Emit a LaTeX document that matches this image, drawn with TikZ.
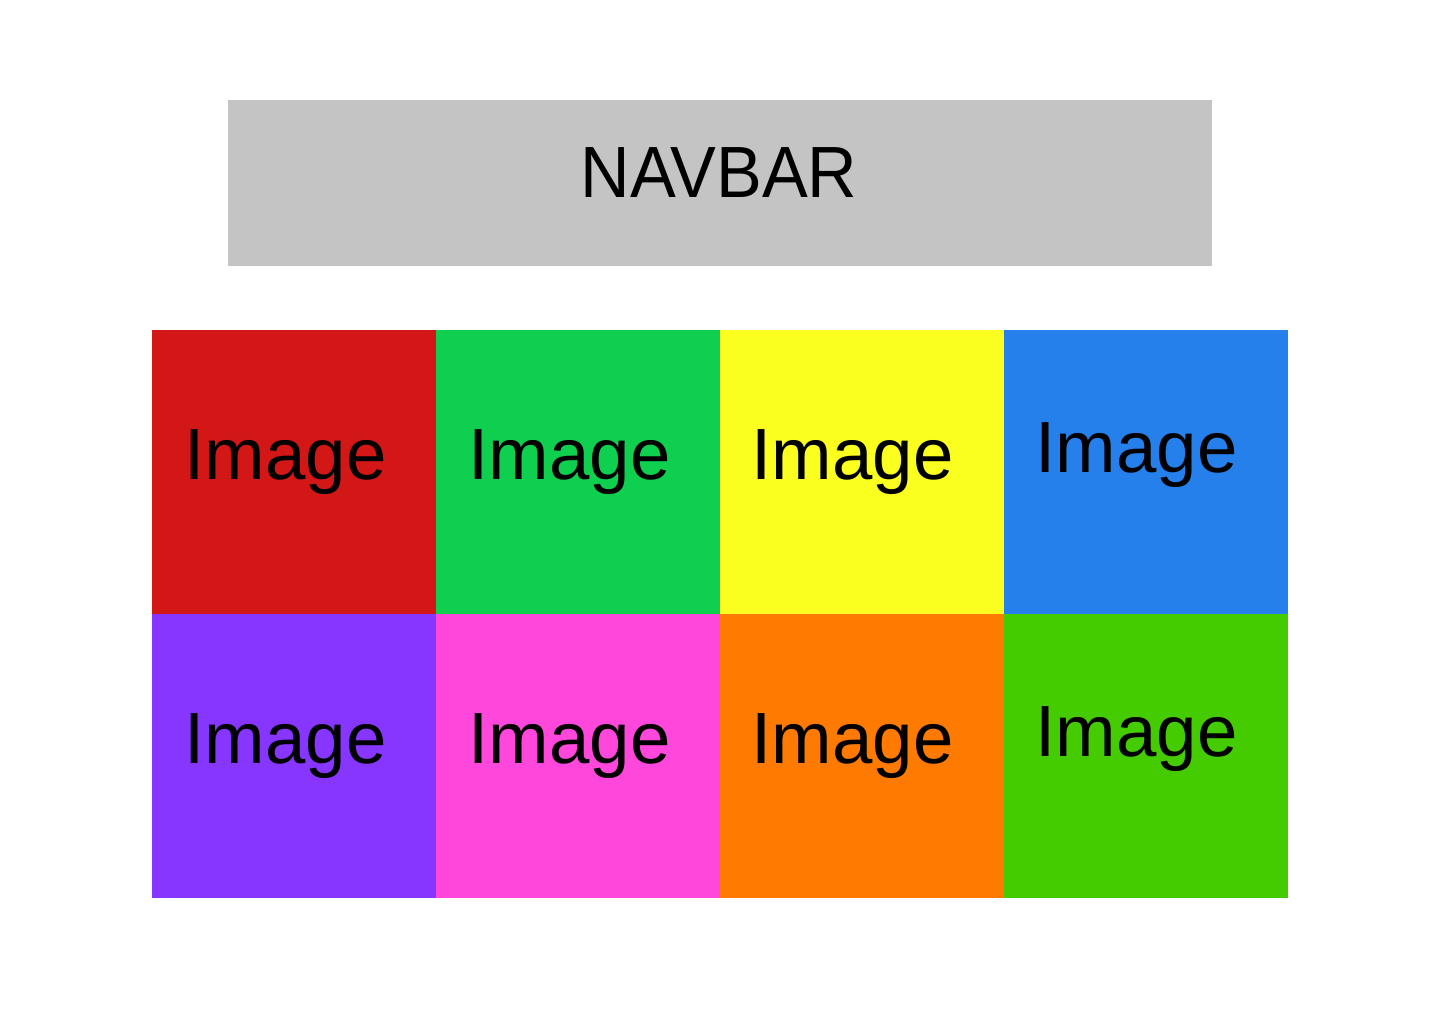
\documentclass[tikz,border=0pt]{standalone}
\usepackage{fontspec}
\setmainfont{Liberation Sans}
\definecolor{navgray}{HTML}{C4C4C4}
\definecolor{cred}{HTML}{D31616}
\definecolor{cgreen}{HTML}{0FCF4F}
\definecolor{cyellow}{HTML}{FAFF1F}
\definecolor{cblue}{HTML}{2580EC}
\definecolor{cpurple}{HTML}{8736FF}
\definecolor{cpink}{HTML}{FF48DB}
\definecolor{corange}{HTML}{FF7A00}
\definecolor{clime}{HTML}{45CC00}
\begin{document}
\begin{tikzpicture}[x=1pt,y=-1pt,
  cell/.style={draw=none,inner sep=0pt,minimum width=284pt,minimum height=284pt,anchor=north west},
  lbl/.style={inner sep=0pt,anchor=base,font=\fontsize{72.6}{80}\selectfont,text=black}]
\useasboundingbox[fill=white] (0,0) rectangle (1440,1024);
\node[fill=navgray,inner sep=0pt,minimum width=984pt,minimum height=166pt,anchor=north west] (nav) at (228,100) {};
\node[lbl] (navt) at (719,198) {\scalebox{0.945}[1]{NAVBAR}};
\node[cell,fill=cred] (c1) at (152,330) {};
\node[cell,fill=cgreen] (c2) at (436,330) {};
\node[cell,fill=cyellow] (c3) at (720,330) {};
\node[cell,fill=cblue] (c4) at (1004,330) {};
\node[cell,fill=cpurple] (c5) at (152,614) {};
\node[cell,fill=cpink] (c6) at (436,614) {};
\node[cell,fill=corange] (c7) at (720,614) {};
\node[cell,fill=clime] (c8) at (1004,614) {};
\node[lbl] (t1) at (285.5,479) {Image};
\node[lbl] (t2) at (569.5,479) {Image};
\node[lbl] (t3) at (852.5,479) {Image};
\node[lbl] (t4) at (1136.5,472) {Image};
\node[lbl] (t5) at (285.5,763) {Image};
\node[lbl] (t6) at (569.5,763) {Image};
\node[lbl] (t7) at (852.5,763) {Image};
\node[lbl] (t8) at (1136.5,756) {Image};
\end{tikzpicture}
\end{document}
